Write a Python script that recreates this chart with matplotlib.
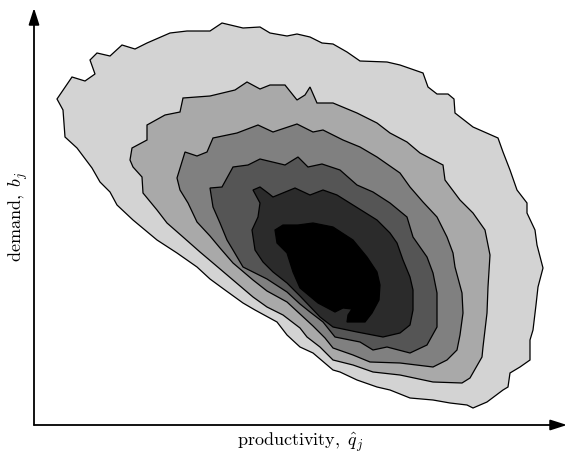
import matplotlib
matplotlib.use('Agg')
from matplotlib import pyplot as plt

# contour outlines, outermost level first
# (productivity on x, demand on y, arbitrary units)
lvl1_x = [57, 72, 85, 95, 90, 97, 110, 122, 135, 147, 170, 187, 210, 222, 243, 260, 270, 287, 297, 310,
          322, 333, 347, 360, 387, 400, 423, 428, 437, 448, 454, 455, 473, 498, 503, 510, 517, 527, 527, 535,
          537, 543, 538, 536, 533, 530, 530, 520, 510, 508, 503, 487, 473, 467, 450, 433, 410, 390, 377, 357,
          340, 333, 313, 300, 287, 277, 255, 243, 225, 210, 197, 177, 157, 133, 117, 110, 100, 92, 77, 65, 63]
lvl1_y = [326, 348, 344, 351, 365, 372, 369, 380, 376, 382, 392, 394, 394, 402, 397, 398, 392, 389, 391, 388,
          382, 381, 373, 364, 363, 360, 352, 338, 331, 331, 326, 312, 298, 287, 273, 255, 235, 222, 212, 195,
          180, 157, 138, 120, 95, 85, 65, 58, 52, 38, 35, 23, 17, 20, 22, 25, 27, 35, 38, 45,
          53, 55, 72, 78, 90, 103, 115, 122, 135, 146, 158, 172, 185, 205, 220, 233, 243, 257, 277, 288, 315]

lvl2_x = [183, 210, 235, 247, 260, 270, 285, 297, 305, 310, 317, 333, 357, 377, 390, 407, 420, 443, 445, 460,
          473, 485, 488, 490, 488, 487, 483, 482, 470, 462, 433, 400, 373, 353, 333, 320, 307, 300, 283, 267,
          253, 233, 213, 200, 183, 167, 157, 143, 142, 133, 130, 132, 147, 147, 165, 180]
lvl2_y = [327, 329, 335, 343, 336, 340, 340, 325, 330, 338, 322, 322, 312, 302, 292, 283, 272, 260, 245, 225,
          212, 195, 180, 170, 138, 112, 78, 68, 47, 42, 43, 50, 53, 60, 65, 78, 88, 97, 110, 118,
          128, 145, 162, 173, 188, 202, 215, 232, 248, 258, 265, 277, 285, 300, 310, 313]

lvl3_x = [177, 185, 197, 207, 213, 237, 258, 273, 297, 313, 323, 343, 360, 377, 400, 410, 423, 437, 447, 453,
          455, 462, 463, 460, 457, 447, 433, 400, 370, 353, 333, 325, 313, 300, 287, 267, 253, 233, 220, 210,
          197, 188, 180]
lvl3_y = [247, 273, 269, 273, 287, 292, 300, 293, 301, 293, 295, 285, 278, 268, 252, 238, 223, 208, 188, 172,
          158, 132, 112, 90, 75, 65, 58, 62, 63, 70, 77, 87, 99, 111, 123, 134, 145, 162, 177, 189,
          203, 222, 235]

lvl4_x = [210, 222, 233, 248, 260, 285, 298, 308, 322, 340, 357, 373, 390, 407, 413, 427, 433, 437, 437, 427,
          410, 387, 373, 360, 335, 323, 310, 300, 287, 267, 243, 233, 227, 220, 213]
lvl4_y = [237, 238, 258, 260, 266, 260, 268, 258, 261, 255, 240, 233, 222, 208, 188, 168, 152, 132, 98, 80,
          72, 78, 75, 83, 88, 103, 113, 121, 133, 146, 158, 175, 185, 202, 218]

lvl5_x = [253, 260, 268, 273, 295, 310, 323, 337, 353, 377, 390, 397, 403, 410, 413, 413, 410, 400, 383, 357,
          333, 320, 300, 287, 273, 263, 255, 252, 258, 260]
lvl5_y = [235, 238, 232, 228, 237, 230, 235, 230, 220, 205, 192, 182, 165, 148, 135, 115, 100, 92, 88, 93,
          98, 108, 129, 142, 153, 163, 175, 195, 208, 222]

lvl6_x = [275, 283, 298, 313, 333, 353, 367, 377, 380, 379, 372, 365, 347, 348, 352, 343, 335, 318, 300, 293,
          287, 277]
lvl6_y = [195, 200, 200, 202, 198, 185, 168, 153, 140, 125, 112, 103, 103, 110, 116, 117, 113, 122, 137, 153,
          172, 182]

levels_x = [lvl1_x, lvl2_x, lvl3_x, lvl4_x, lvl5_x, lvl6_x]
levels_y = [lvl1_y, lvl2_y, lvl3_y, lvl4_y, lvl5_y, lvl6_y]
shades = ['#d3d3d3', '#a9a9a9', '#808080', '#555555', '#2b2b2b', '#000000']

plt.rcParams['mathtext.fontset'] = 'cm'

fig = plt.figure(figsize=(5.68, 4.53), dpi=100)
ax = fig.add_axes([34 / 568, 28 / 453, 533 / 568, 417 / 453])

for xs, ys, c in zip(levels_x, levels_y, shades):
    ax.fill(xs, ys, facecolor=c, edgecolor='black', linewidth=0.9)

ax.set_xlim(34, 567)
ax.set_ylim(0, 417)
for s in ax.spines.values():
    s.set_visible(False)
ax.set_xticks([])
ax.set_yticks([])

arrow = dict(arrowstyle='-|>,head_length=1.0,head_width=0.32', lw=1.3, color='black',
             shrinkA=0, shrinkB=0)
ax.annotate('', xy=(1, 0), xytext=(0, 0), xycoords='axes fraction', arrowprops=arrow)
ax.annotate('', xy=(0, 1), xytext=(0, 0), xycoords='axes fraction', arrowprops=arrow)

ax.set_xlabel(r'$\mathrm{productivity,}\ \hat{q}_j$', fontsize=13, labelpad=4)
ax.set_ylabel(r'$\mathrm{demand,}\ b_j$', fontsize=13, labelpad=3)

fig.savefig('out.png', dpi=100)
